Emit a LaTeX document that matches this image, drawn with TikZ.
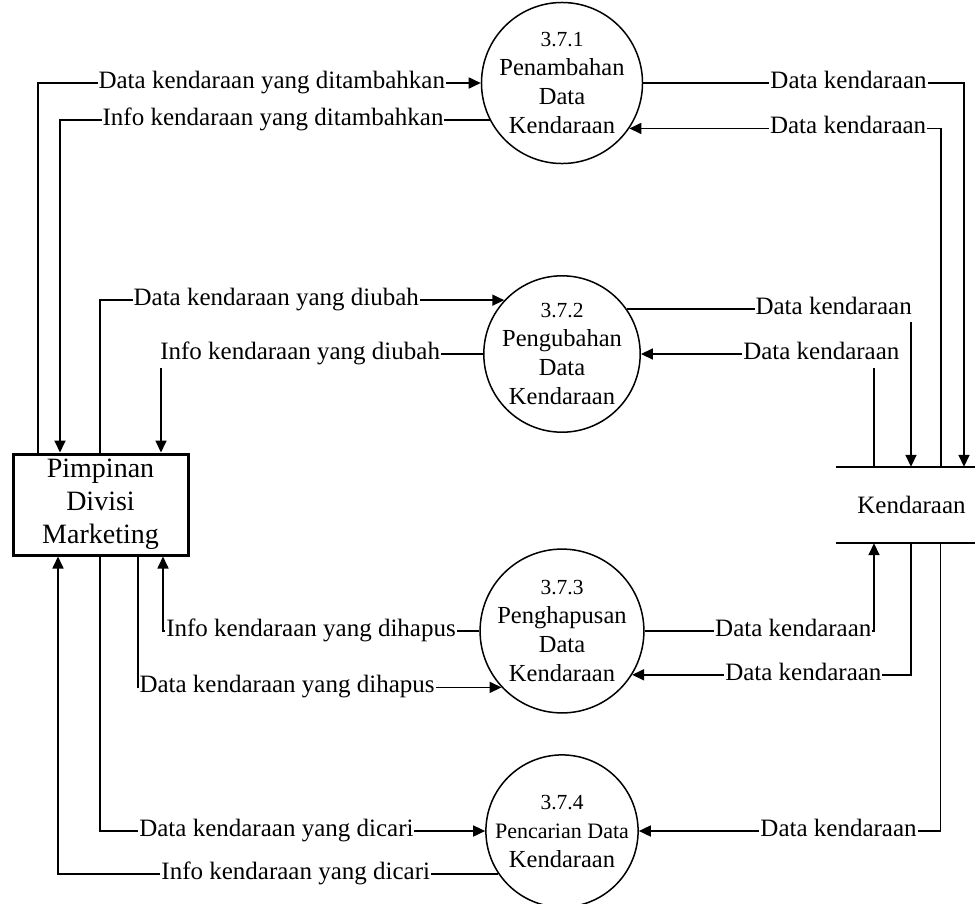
\documentclass[tikz,border=0pt]{standalone}
\usepackage{fontspec}
\setmainfont{Liberation Serif}
\usetikzlibrary{arrows.meta}

\tikzset{
  proc/.style={circle, draw, line width=1.5pt, minimum size=150pt, inner sep=0pt, align=center, font=\fontsize{24.5}{29}\selectfont},
  ext/.style={draw, line width=3pt, minimum width=175pt, minimum height=101pt, inner sep=0pt, align=center, font=\fontsize{28}{33}\selectfont},
  store/.style={minimum width=139pt, minimum height=76pt, inner sep=0pt, font=\fontsize{25}{25}\selectfont},
  flow/.style={line width=1.7pt, -{Triangle[length=12pt,width=11pt]}},
  lbl/.style={fill=white, inner xsep=1pt, inner ysep=2pt, text height=17pt, text depth=6pt, font=\fontsize{25}{25}\selectfont},
}
\newcommand{\procnum}[1]{{\fontsize{21.5}{29}\selectfont #1}}

\begin{document}
\begin{tikzpicture}[x=1pt,y=-1pt]
    \useasboundingbox (0,0) rectangle (975,903);
    % entity, processes, store
    \node[ext] (pdm) at (100.5,504.5) {Pimpinan\\Divisi\\Marketing};
    \node[proc] (p1) at (562,83) {\procnum{3.7.1}\\Penambahan\\Data\\Kendaraan};
    \node[proc] (p2) at (562,354) {\procnum{3.7.2}\\Pengubahan\\Data\\Kendaraan};
    \node[proc] (p3) at (562,631) {\procnum{3.7.3}\\Penghapusan\\Data\\Kendaraan};
    \node[proc] (p4) at (562,831) {\procnum{3.7.4}\\{\fontsize{22}{27}\selectfont Pencarian Data}\\Kendaraan};
    \node[store] (kdr) at (905.5,505) {\hspace*{12pt}Kendaraan};
    \draw[line width=1.9pt] (kdr.north west) -- (kdr.north east) (kdr.south west) -- (kdr.south east);
    % penambahan
    \draw[flow] ([xshift=-62.5pt]pdm.north) |- node[lbl, pos=0.764] {Data kendaraan yang ditambahkan} (p1.west);
    \draw[flow] (p1.207) -| node[lbl, pos=0.252] {Info kendaraan yang ditambahkan} ([xshift=-40.5pt]pdm.north);
    \draw[flow] (p1.east) -| node[lbl, pos=0.32] {Data kendaraan} ([xshift=58.5pt]kdr.north);
    \draw[flow] ([xshift=35.5pt]kdr.north) |- node[lbl, pos=0.649] {Data kendaraan} (p1.-34);
    % pengubahan
    \draw[flow] ([xshift=-0.5pt]pdm.north) |- node[lbl, pos=0.718] {Data kendaraan yang diubah} (p2.137);
    \draw[flow] (p2.west) -| node[lbl, pos=0.284] {Info kendaraan yang diubah} ([xshift=60.5pt]pdm.north);
    \draw[flow] (p2.35) -| node[lbl, pos=0.364] {Data kendaraan} ([xshift=5.5pt]kdr.north);
    \draw[flow] ([xshift=-31.5pt]kdr.north) |- node[lbl, pos=0.613] {Data kendaraan} (p2.east);
    % penghapusan
    \draw[flow] (p3.west) -| node[lbl, pos=0.266] {Info kendaraan yang dihapus} ([xshift=62.5pt]pdm.south);
    \draw[flow] ([xshift=37.5pt]pdm.south) |- node[lbl, pos=0.705] {Data kendaraan yang dihapus} (p3.223);
    \draw[flow] (p3.east) -| node[lbl, pos=0.324] {Data kendaraan} ([xshift=-31.5pt]kdr.south);
    \draw[flow] ([xshift=5.5pt]kdr.south) |- node[lbl, pos=0.693] {Data kendaraan} (p3.-32);
    % pencarian
    \draw[flow] ([xshift=-0.5pt]pdm.south) |- node[lbl, pos=0.729] {Data kendaraan yang dicari} (p4.west);
    \draw[flow] (p4.214) -| node[lbl, pos=0.23] {Info kendaraan yang dicari} ([xshift=-42.5pt]pdm.south);
    \draw[flow] ([xshift=35pt]kdr.south) |- node[lbl, pos=0.669] {Data kendaraan} (p4.east);
\end{tikzpicture}
\end{document}
